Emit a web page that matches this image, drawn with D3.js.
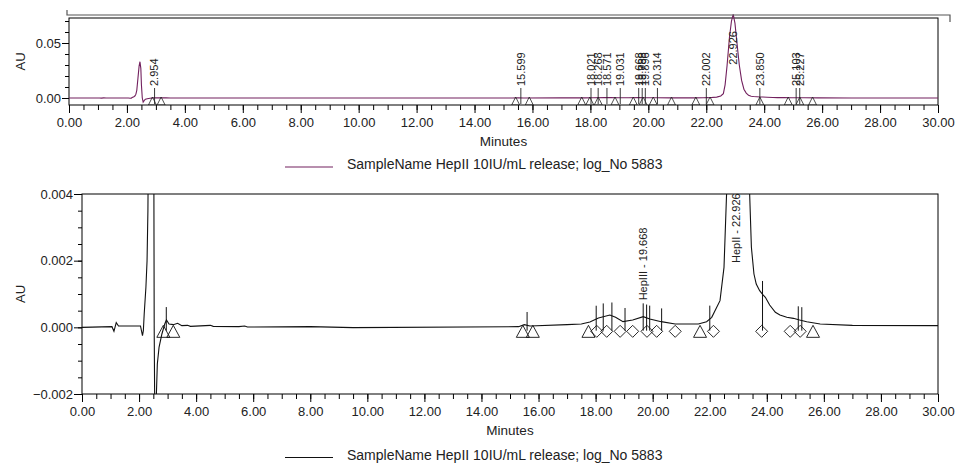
<!DOCTYPE html>
<html>
<head>
<meta charset="utf-8">
<script src="https://cdn.jsdelivr.net/npm/d3@7"></script>
<style>
body { margin: 0; background: #fff; }
text { font-family: Arial, "Liberation Sans", sans-serif; fill: #222; }
</style>
</head>
<body>
<svg id="chart" width="964" height="464"></svg>
<script>
// chromatogram trace (minutes, AU)
var times = [0, 1.05, 1.12, 1.2, 1.28, 1.5, 2.05, 2.12, 2.15, 2.18, 2.24, 2.28, 2.31, 2.34, 2.38, 2.42, 2.45, 2.48, 2.5, 2.53, 2.56, 2.6, 2.64, 2.7, 2.8, 2.9, 2.96, 3.05, 3.2, 3.35, 3.5, 3.7, 3.8, 4.5, 4.6, 5.5, 5.7, 5.8, 8.0, 9.5, 15.3, 15.5, 15.7, 17.0, 17.5, 17.8, 18.1, 18.5, 18.7, 18.96, 19.3, 19.67, 19.9, 20.3, 20.79, 21.6, 21.89, 22.07, 22.36, 22.5, 22.59, 22.65, 22.72, 22.8, 22.87, 22.93, 22.99, 23.06, 23.14, 23.22, 23.3, 23.38, 23.46, 23.55, 23.63, 23.75, 23.86, 23.95, 24.1, 24.3, 24.46, 24.7, 24.93, 25.15, 25.4, 25.87, 27, 30];
var absorbance = [0, 0.00002, -0.00012, 0.00014, 0.00004, 0.00004, 0.00004, -0.00025, -0.0001, 0.0004, 0.0012, 0.002, 0.0035, 0.007, 0.018, 0.029, 0.033, 0.027, 0.012, 0.0, -0.0038, -0.0022, -0.0011, -0.0006, -0.0002, 0.0001, 0.00022, 0.0001, 0.00008, 0.00012, 0.00005, 0.00006, 0.00003, 0.00006, 0.00003, 0.00002, 0.00004, 0.00001, 0.00002, -0.00001, 0.00002, 0.00008, 0.00004, 0.00008, 0.0001, 0.00016, 0.00028, 0.00037, 0.0003, 0.00017, 0.00022, 0.00032, 0.00025, 0.00017, 0.0001, 0.0001, 0.00017, 0.0003, 0.0008, 0.0018, 0.004, 0.012, 0.03, 0.055, 0.07, 0.076, 0.068, 0.05, 0.03, 0.016, 0.008, 0.0045, 0.0024, 0.0016, 0.0013, 0.0011, 0.00098, 0.0009, 0.00067, 0.00045, 0.00037, 0.0003, 0.00027, 0.00022, 0.00017, 0.0001, 0.00006, 0.00005];

// integrated peaks (retention times) and their start / end marks
var peakTimes = [2.954, 15.599, 18.021, 18.268, 18.571, 19.031, 19.668, 19.788, 19.896, 20.314, 22.002, 22.926, 23.850, 25.103, 25.227];
var topMarks = [2.88, 3.18, 15.42, 15.89, 17.70, 17.98, 18.27, 18.85, 19.48, 19.82, 20.17, 20.80, 21.64, 22.13, 23.85, 24.83, 25.23, 25.67];
var peakStarts = [2.85, 3.2, 15.45, 15.8, 17.75, 21.66, 25.62];
var peakEnds = [18.04, 18.39, 18.86, 19.3, 19.8, 20.14, 20.79, 22.13, 23.82, 24.82, 25.17];
var namedPeaks = [{name: "HepIII", time: 19.668}, {name: "HepII", time: 22.926}];

var xMajor = d3.range(0, 30.01, 2);
var xMinor = d3.range(0, 30.01, 0.5);
var yTopMajor = [0, 0.05];
var yTopMinor = d3.range(0, 0.0705, 0.01);
var yBotMajor = [-0.002, 0, 0.002, 0.004];
var yBotMinor = d3.range(-0.002, 0.00401, 0.0005);

var legendText = "SampleName HepII 10IU/mL release; log_No 5883";
var topColor = "#72205e";

var trace = times.map(function(t, i){ return [t, absorbance[i]]; });
function valueAt(t){
    var i = d3.bisectLeft(times, t);
    if(i <= 0) return absorbance[0];
    if(i >= times.length) return absorbance[absorbance.length - 1];
    var f = (t - times[i-1]) / (times[i] - times[i-1]);
    return absorbance[i-1] + f * (absorbance[i] - absorbance[i-1]);
}

var svg = d3.select("#chart");

function panel(cfg){
    var g = svg.append("g");
    var x = d3.scaleLinear().domain([0, 30]).range([cfg.left, cfg.right]);
    var y = d3.scaleLinear().domain(cfg.yDomain).range([cfg.bottom, cfg.top]);

    g.append("clipPath").attr("id", cfg.id)
        .append("rect").attr("x", cfg.left).attr("y", cfg.clipTop)
        .attr("width", cfg.right - cfg.left).attr("height", cfg.bottom - cfg.clipTop);

    // axes: minor ticks first, then labelled majors
    g.append("g").attr("transform", "translate(0," + cfg.bottom + ")")
        .call(d3.axisBottom(x).tickValues(xMinor).tickSize(5).tickFormat(""))
        .call(a => a.select(".domain").remove());
    g.append("g").attr("transform", "translate(0," + cfg.bottom + ")")
        .call(d3.axisBottom(x).tickValues(xMajor).tickSize(8).tickFormat(d3.format(".2f")))
        .call(a => a.select(".domain").remove())
        .call(a => a.selectAll("text").attr("y", 13).attr("font-size", 13).style("fill", "#222"));

    g.append("g").attr("transform", "translate(" + cfg.left + ",0)")
        .call(d3.axisLeft(y).tickValues(cfg.yMinor).tickSize(4).tickFormat(""))
        .call(a => a.select(".domain").remove());
    g.append("g").attr("transform", "translate(" + cfg.left + ",0)")
        .call(d3.axisLeft(y).tickValues(cfg.yMajor).tickSize(cfg.yTick).tickPadding(1).tickFormat(d3.format(cfg.yFmt)))
        .call(a => a.select(".domain").remove())
        .call(a => a.selectAll("text").attr("font-size", 13).style("fill", "#222"));

    g.append("rect").attr("x", cfg.left).attr("y", cfg.top)
        .attr("width", cfg.right - cfg.left).attr("height", cfg.bottom - cfg.top)
        .attr("fill", "none").attr("stroke", "#000");

    g.append("text").attr("transform", "translate(20," + ((cfg.top + cfg.bottom) / 2) + ") rotate(-90)")
        .attr("text-anchor", "middle").attr("dy", "0.35em").attr("font-size", 13).text("AU");
    g.append("text").attr("x", (cfg.left + cfg.right) / 2).attr("y", cfg.bottom + 41)
        .attr("text-anchor", "middle").attr("font-size", 13.5).text("Minutes");

    // legend
    g.append("line").attr("x1", 285).attr("x2", 333)
        .attr("y1", cfg.legendY).attr("y2", cfg.legendY)
        .attr("stroke", cfg.color).attr("stroke-width", 1.2);
    g.append("text").attr("x", 347).attr("y", cfg.legendY + 2)
        .attr("font-size", 14).text(legendText);

    var inner = g.append("g").attr("clip-path", "url(#" + cfg.id + ")");
    inner.append("path").datum(trace)
        .attr("d", d3.line().x(d => x(d[0])).y(d => y(d[1])))
        .attr("fill", "none").attr("stroke", cfg.color).attr("stroke-width", 1.1);

    return {g: g, inner: inner, x: x, y: y};
}

// top: full-scale view
var topPanel = panel({id: "clipTop", left: 69, right: 938, top: 18, bottom: 105, clipTop: 14,
    yDomain: [-0.00636, 0.07273], yMajor: yTopMajor, yMinor: yTopMinor, yTick: 7, yFmt: ".2f",
    legendY: 167, color: topColor});

svg.append("path").attr("d", "M67,10V15H950V22")
    .attr("fill", "none").attr("stroke", "#555").attr("stroke-width", 1.2);

topPanel.inner.selectAll(".mk").data(topMarks).enter().append("path")
    .attr("d", function(t){
        var cx = topPanel.x(t), b = topPanel.y(0);
        return "M" + (cx - 4) + "," + (b + 7) + "L" + cx + "," + (b - 1) + "L" + (cx + 4) + "," + (b + 7) + "Z";
    })
    .attr("fill", "none").attr("stroke", "#222").attr("stroke-width", 0.8);

peakTimes.forEach(function(t){
    var cx = topPanel.x(t);
    var start = Math.min(86, topPanel.y(valueAt(t) * 0.4));
    if(start >= 86){
        topPanel.g.append("line").attr("x1", cx).attr("x2", cx).attr("y1", start + 2).attr("y2", 104)
            .attr("stroke", "#222").attr("stroke-width", 0.9);
    }
    topPanel.g.append("text").attr("transform", "translate(" + cx + "," + start + ") rotate(-90)")
        .attr("dy", "0.35em").attr("font-size", 11).text(d3.format(".3f")(t));
});

// bottom: zoomed view of the baseline
var botPanel = panel({id: "clipBot", left: 82, right: 938, top: 194, bottom: 394, clipTop: 194,
    yDomain: [-0.002, 0.004], yMajor: yBotMajor, yMinor: yBotMinor, yTick: 8, yFmt: ".3f",
    legendY: 457.5, color: "#111"});

peakTimes.forEach(function(t){
    var v = valueAt(t);
    if(v > 0.004) return;
    var cx = botPanel.x(t);
    botPanel.inner.append("line").attr("x1", cx).attr("x2", cx)
        .attr("y1", botPanel.y(v + 0.0004)).attr("y2", botPanel.y(-0.0001))
        .attr("stroke", "#111").attr("stroke-width", 1);
});

botPanel.inner.selectAll(".st").data(peakStarts).enter().append("path")
    .attr("d", function(t){
        var cx = botPanel.x(t), b = botPanel.y(0) + 10;
        return "M" + (cx - 6.5) + "," + b + "L" + cx + "," + (b - 12) + "L" + (cx + 6.5) + "," + b + "Z";
    })
    .attr("fill", "none").attr("stroke", "#111").attr("stroke-width", 0.9);

botPanel.inner.selectAll(".en").data(peakEnds).enter().append("path")
    .attr("d", function(t){
        var cx = botPanel.x(t), cy = botPanel.y(0) + 4;
        return "M" + cx + "," + (cy - 6) + "L" + (cx + 6) + "," + cy + "L" + cx + "," + (cy + 6) + "L" + (cx - 6) + "," + cy + "Z";
    })
    .attr("fill", "none").attr("stroke", "#111").attr("stroke-width", 0.9);

namedPeaks.forEach(function(p){
    var cx = botPanel.x(p.time);
    var start = Math.max(botPanel.y(valueAt(p.time) + 0.0004) - 3, 263);
    botPanel.g.append("text").attr("transform", "translate(" + cx + "," + start + ") rotate(-90)")
        .attr("dy", "0.35em").attr("font-size", 11)
        .text(p.name + " - " + d3.format(".3f")(p.time));
});
</script>
</body>
</html>
